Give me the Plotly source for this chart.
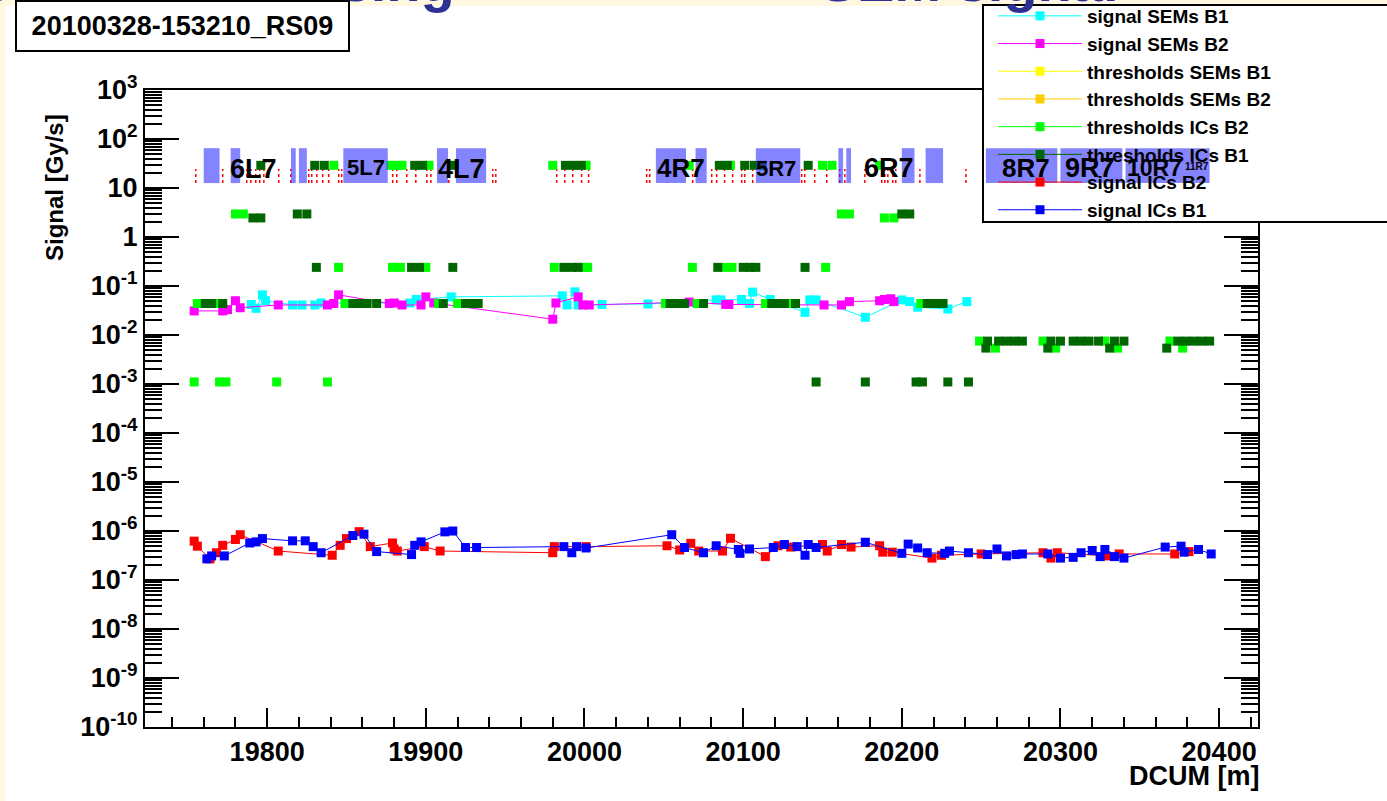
import math
import plotly.graph_objects as go

# ---------------- data ----------------
sem_b1_x = [19790, 19793, 19797, 19799, 19816, 19822, 19830, 19834, 19890, 19894, 19916, 19986, 19989, 19994, 19996,
            20011, 20040, 20083, 20086, 20099, 20104, 20106, 20117, 20139, 20142, 20146, 20177, 20200, 20205, 20210,
            20229, 20241]
sem_b1_y = [0.042, 0.035, 0.066, 0.050, 0.041, 0.041, 0.041, 0.045, 0.045, 0.053, 0.060, 0.063, 0.041, 0.076, 0.041,
            0.042, 0.043, 0.052, 0.052, 0.053, 0.044, 0.075, 0.053, 0.029, 0.052, 0.052, 0.023, 0.052, 0.048, 0.037,
            0.034, 0.048]

sem_b2_x = [19754, 19772, 19775, 19780, 19783, 19807, 19838, 19842, 19845, 19877, 19880, 19885, 19897, 19900, 19905,
            19980, 19982, 19996, 19999, 20003, 20066, 20089, 20091, 20151, 20162, 20167, 20186, 20189, 20193, 20195]
sem_b2_y = [0.031, 0.031, 0.033, 0.050, 0.036, 0.041, 0.041, 0.044, 0.066, 0.044, 0.045, 0.041, 0.041, 0.060, 0.045,
            0.021, 0.045, 0.060, 0.041, 0.041, 0.047, 0.042, 0.042, 0.041, 0.041, 0.048, 0.050, 0.053, 0.055, 0.048]

# no SEM threshold points fall inside the displayed range
thr_sem_b1_x, thr_sem_b1_y = [None], [None]
thr_sem_b2_x, thr_sem_b2_y = [None], [None]

thr_ic_b2_x = [19842, 19878, 19882, 19885, 19902, 19980, 20001, 20066, 20092, 20150, 20156, 20186,
               19780, 19785, 20162, 20167, 20189, 20195,
               19845, 19879, 19884, 19900, 19981, 20000, 20002, 20068, 20089, 20093, 20152,
               19756, 19770, 19849, 19860, 19908, 19920, 20051, 20060, 20071, 20114, 20123, 20130, 20212,
               19754, 19770, 19774, 19806, 19838,
               20249, 20289, 20328, 20369, 20259, 20297, 20336, 20377]
thr_ic_b2_y = [29] * 12 + [2.95, 2.95, 2.95, 2.95, 2.45, 2.45] + [0.24] * 11 + [0.044] * 13 + [0.0011] * 5 + \
              [0.0075] * 4 + [0.0054] * 4

thr_ic_b1_x = [19796, 19830, 19836, 19893, 19898, 19918, 19988, 19993, 19998, 20085, 20090, 20101, 20107, 20112, 20141,
               19791, 19796, 19819, 19825, 20200, 20205,
               19831, 19891, 19896, 19917, 19987, 19992, 19996, 20084, 20100, 20104, 20108, 20139,
               19761, 19765, 19772, 19854, 19858, 19863, 19869, 19911, 19925, 19928, 19933, 20054, 20058, 20063, 20075,
               20118, 20122, 20126, 20133, 20216, 20221, 20226,
               20146, 20177, 20209, 20213, 20229, 20242,
               20254, 20261, 20266, 20271, 20276, 20294, 20300, 20308, 20313, 20318, 20324, 20334, 20340, 20374, 20379,
               20384, 20389, 20394,
               20253, 20292, 20331, 20367]
thr_ic_b1_y = [29] * 15 + [2.45, 2.45, 2.95, 2.95, 2.95, 2.95] + [0.24] * 12 + [0.044] * 22 + [0.0011] * 6 + \
              [0.0075] * 18 + [0.0054] * 4

ic_b2_x = [19754, 19756, 19764, 19768, 19772, 19780, 19783, 19807, 19841, 19846, 19850, 19858, 19865, 19879, 19880,
           19882, 19899, 19909, 19980, 19981, 20001, 20052, 20060, 20067, 20072, 20087, 20092, 20114, 20122, 20130,
           20150, 20153, 20162, 20168, 20186, 20188, 20194, 20219, 20225, 20250, 20289, 20294, 20298, 20329, 20337,
           20372, 20381]
ic_b2_y = [6.2e-7, 4.9e-7, 2.7e-7, 3.6e-7, 5.1e-7, 6.7e-7, 8.4e-7, 3.9e-7, 3.2e-7, 5.1e-7, 7.0e-7, 9.7e-7, 4.8e-7,
           5.7e-7, 4.3e-7, 3.9e-7, 4.8e-7, 3.9e-7, 3.6e-7, 4.8e-7, 4.8e-7, 5.0e-7, 4.1e-7, 5.6e-7, 3.9e-7, 3.9e-7,
           7.1e-7, 3.0e-7, 5.0e-7, 4.7e-7, 5.3e-7, 3.9e-7, 5.3e-7, 4.7e-7, 5.0e-7, 3.7e-7, 3.7e-7, 2.8e-7, 3.2e-7,
           3.4e-7, 3.6e-7, 2.8e-7, 3.6e-7, 3.1e-7, 3.4e-7, 3.4e-7, 3.8e-7]

ic_b1_x = [19762, 19765, 19773, 19789, 19793, 19797, 19816, 19824, 19829, 19834, 19854, 19861, 19869, 19891, 19893,
           19897, 19912, 19917, 19925, 19932, 19987, 19992, 19995, 20001, 20055, 20063, 20075, 20083, 20097, 20098,
           20104, 20119, 20126, 20134, 20139, 20141, 20146, 20177, 20200, 20204, 20210, 20216, 20227, 20230, 20242,
           20254, 20260, 20266, 20272, 20276, 20292, 20300, 20308, 20313, 20320, 20325, 20328, 20334, 20340, 20366,
           20376, 20378, 20387, 20395]
ic_b1_y = [2.7e-7, 3.1e-7, 3.1e-7, 5.7e-7, 6.0e-7, 7.0e-7, 6.3e-7, 6.3e-7, 4.8e-7, 3.6e-7, 8.1e-7, 8.6e-7, 3.8e-7,
           3.3e-7, 5.1e-7, 6.0e-7, 9.6e-7, 1.0e-6, 4.6e-7, 4.6e-7, 4.8e-7, 3.6e-7, 4.8e-7, 4.5e-7, 8.4e-7, 4.6e-7,
           3.6e-7, 5.0e-7, 4.2e-7, 3.5e-7, 4.3e-7, 4.6e-7, 5.3e-7, 4.8e-7, 3.2e-7, 5.3e-7, 4.6e-7, 5.9e-7, 3.5e-7,
           5.4e-7, 4.5e-7, 3.6e-7, 3.5e-7, 3.9e-7, 3.6e-7, 3.3e-7, 4.3e-7, 3.1e-7, 3.3e-7, 3.4e-7, 3.4e-7, 2.8e-7,
           2.9e-7, 3.6e-7, 4.0e-7, 3.0e-7, 4.2e-7, 3.0e-7, 2.8e-7, 4.7e-7, 4.9e-7, 3.7e-7, 4.2e-7, 3.4e-7]

# element blocks (hatched) and element markers (red dotted)
block_start = [19760, 19777, 19815, 19820, 19848, 19907, 19919, 20045, 20070, 20108, 20160, 20165, 20200, 20215,
               20253, 20300, 20341]
block_end = [19770, 19783, 19818, 19825, 19876, 19914, 19938, 20064, 20077, 20136, 20163, 20168, 20208, 20226,
             20298, 20339, 20394]
block_low, block_high = 12.6, 65.0

marker_pos = [19755.0, 19772.0, 19787.1, 19789.7, 19792.8, 19795.3, 19797.9, 19807.3, 19814.9, 19826.2, 19828.1,
              19831.3, 19835.0, 19838.8, 19845.1, 19847.0, 19879.1, 19881.7, 19888.0, 19893.7, 19900.6, 19903.2,
              19914.5, 19942.2, 19944.1, 19982.5, 19987.6, 19992.6, 19998.2, 20002.6, 20039.2, 20041.1, 20068.2,
              20080.2, 20083.3, 20088.3, 20093.4, 20099.1, 20101.0, 20106.0, 20136.9, 20138.8, 20145.1, 20152.7,
              20160.9, 20164.1, 20176.7, 20187.4, 20189.3, 20191.2, 20194.3, 20196.2, 20211.4, 20240.4]
marker_low, marker_high = 12.6, 24.5

elem_names = ["6L7", "5L7", "4L7", "4R7", "5R7", "6R7", "8R7", "9R7", "10R7", "11R7"]
elem_x = [19791.6, 19862, 19922.6, 20061, 20121, 20192, 20278, 20318.5, 20359, 20386]
elem_y = [25, 26, 25, 25.5, 25, 25.5, 25.5, 25.5, 25.5, 27]
elem_size = [27, 22, 27, 26, 22, 27, 26, 27, 23, 10]

x_ticks = [19800, 19900, 20000, 20100, 20200, 20300, 20400]
y_exps = list(range(-10, 4))

slide_title_parts = ["Resonance crossing", "\u2013 SEM signal"]

# ---------------- figure ----------------
FONT = "Liberation Sans"
L, R, T, B = 145, 129, 90, 74
PW, PH = 1387 - L - R, 801 - T - B


def px(p):
    return (p - L) / PW


def py(q):
    return (801 - B - q) / PH


def isolated(xs, ys):
    """points drawn without connecting segments (legend still shows line + marker)"""
    ox, oy = [], []
    for a, b in zip(xs, ys):
        ox += [a, None]
        oy += [b, None]
    return ox, oy


fig = go.Figure()

mx, my = [], []
for p in marker_pos:
    mx += [p, p, None]
    my += [marker_low, marker_high, None]
fig.add_trace(go.Scatter(x=mx, y=my, mode="lines", line=dict(color="red", width=1.5, dash="dot"),
                         showlegend=False, hoverinfo="skip"))

MS = 9
series = [
    ("signal SEMs B1", sem_b1_x, sem_b1_y, "#00FFFF", True),
    ("signal SEMs B2", sem_b2_x, sem_b2_y, "#FF00FF", True),
    ("thresholds SEMs B1", thr_sem_b1_x, thr_sem_b1_y, "#FFFF00", False),
    ("thresholds SEMs B2", thr_sem_b2_x, thr_sem_b2_y, "#FFCC00", False),
    ("thresholds ICs B2", thr_ic_b2_x, thr_ic_b2_y, "#00FF00", False),
    ("thresholds ICs B1", thr_ic_b1_x, thr_ic_b1_y, "#006600", False),
    ("signal ICs B2", ic_b2_x, ic_b2_y, "#FF0000", True),
    ("signal ICs B1", ic_b1_x, ic_b1_y, "#0000FF", True),
]
for name, xs, ys, col, joined in series:
    if not joined:
        xs, ys = isolated(xs, ys)
    fig.add_trace(go.Scatter(
        x=xs, y=ys, name=name, mode="lines+markers", connectgaps=False,
        line=dict(color=col, width=1),
        marker=dict(symbol="square", size=MS, color=col, line=dict(width=0)),
    ))

cream = "#FFF7DF"
fig.add_shape(type="rect", xref="paper", yref="paper", x0=px(0), x1=px(5), y0=py(801), y1=py(0),
              fillcolor=cream, line=dict(width=0), layer="below")
fig.add_shape(type="rect", xref="paper", yref="paper", x0=px(0), x1=px(1387), y0=py(6), y1=py(0),
              fillcolor=cream, line=dict(width=0), layer="below")
# legend box (drawn under the legend entries, above the plot)
fig.add_shape(type="rect", xref="paper", yref="paper", x0=px(983), x1=px(1400), y0=py(222), y1=py(5),
              fillcolor="white", line=dict(color="black", width=2), layer="above")
# hatched element blocks, drawn on top like in the original canvas
for a, b in zip(block_start, block_end):
    fig.add_shape(type="rect", xref="x", yref="y", x0=a, x1=b, y0=block_low, y1=block_high,
                  fillcolor="rgba(50,50,255,0.6)", line=dict(width=0), layer="above")

for n, x, y, s in zip(elem_names, elem_x, elem_y, elem_size):
    fig.add_annotation(x=x, y=math.log10(y), yref="y", xref="x", text=n, showarrow=False,
                       font=dict(family=FONT, size=s, color="black", weight="bold"))

# slide title, mostly hidden above the canvas picture
for txt, right in zip(slide_title_parts, [457, 1120]):
    fig.add_annotation(xref="paper", yref="paper", x=px(right), y=py(15), xanchor="right", yanchor="bottom",
                       text=txt, showarrow=False,
                       font=dict(family=FONT, size=56, color="#2E3192", weight="bold"))

# title box
fig.add_annotation(xref="paper", yref="paper", x=px(15), y=py(0), xanchor="left", yanchor="top",
                   text="20100328-153210_RS09", showarrow=False, width=331, height=48, borderpad=0,
                   bgcolor="white", bordercolor="black", borderwidth=2,
                   font=dict(family=FONT, size=27, color="black", weight="bold"))
# axis titles
fig.add_annotation(xref="paper", yref="paper", x=px(54), y=py(188), xanchor="center", yanchor="middle",
                   text="Signal [Gy/s]", textangle=-90,
                   showarrow=False, font=dict(family=FONT, size=24, color="black", weight="bold"))
fig.add_annotation(xref="paper", yref="paper", x=px(1261), y=py(776), xanchor="right", yanchor="middle",
                   text="DCUM [m]", showarrow=False, font=dict(family=FONT, size=27, color="black", weight="bold"))

ytext = []
for e in y_exps:
    if e == 0:
        ytext.append("1")
    elif e == 1:
        ytext.append("10")
    else:
        ytext.append("10<sup>%d</sup>" % e)
minor_vals = [m * 10.0 ** k for k in range(-10, 3) for m in range(2, 10)]

fig.update_layout(
    width=1387, height=801,
    margin=dict(l=L, r=R, t=T, b=B, autoexpand=False),
    paper_bgcolor="white", plot_bgcolor="white",
    showlegend=True,
    legend=dict(x=px(983), y=py(-3), xanchor="left", yanchor="top", bgcolor="rgba(0,0,0,0)",
                borderwidth=0, traceorder="normal", indentation=10, itemwidth=84,
                font=dict(family=FONT, size=19, color="black", weight="bold")),
    xaxis=dict(range=[19723, 20424.5], tickmode="array", tickvals=x_ticks, ticktext=[str(v) for v in x_ticks],
               ticks="inside", ticklen=19,
               tickwidth=1.5, tickcolor="black", showline=True, linecolor="black", linewidth=2, mirror=True,
               showgrid=False, zeroline=False,
               tickfont=dict(family=FONT, size=27, color="black", weight="bold"),
               minor=dict(dtick=20, tick0=19800, ticks="inside", ticklen=10, tickwidth=1.5, tickcolor="black",
                          showgrid=False)),
    yaxis=dict(type="log", range=[-10, 3], tickmode="array", tickvals=[10.0 ** e for e in y_exps], ticktext=ytext,
               ticks="inside", ticklen=34, tickwidth=1.5, tickcolor="black", showline=True, linecolor="black",
               linewidth=2, mirror="ticks", showgrid=False, zeroline=False,
               tickfont=dict(family=FONT, size=27, color="black", weight="bold"),
               minor=dict(tickmode="array", tickvals=minor_vals, ticks="inside", ticklen=17, tickwidth=1.5,
                          tickcolor="black", showgrid=False)),
)

fig.write_html("out.html", config={"displayModeBar": False})
